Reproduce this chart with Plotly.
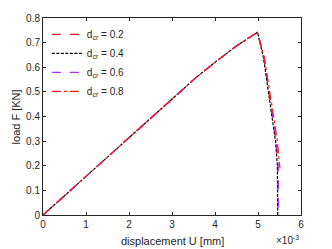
import plotly.graph_objects as go

# displacement in mm, load in kN
x_rise = [0, 0.001, 0.002, 0.003, 0.00355, 0.00402, 0.00448, 0.00479, 0.00499]
y_rise = [0, 0.157, 0.314, 0.470, 0.557, 0.623, 0.684, 0.720, 0.742]

x_d02 = x_rise + [0.00514, 0.00526, 0.00534, 0.00542, 0.00546, 0.00547]
y_d02 = y_rise + [0.636, 0.500, 0.393, 0.298, 0.200, 0.0]
x_d04 = x_rise + [0.00513, 0.00525, 0.00533, 0.00541, 0.00545, 0.00546]
y_d04 = y_rise + [0.636, 0.500, 0.393, 0.298, 0.200, 0.0]
x_d06 = x_rise + [0.00515, 0.00527, 0.00535, 0.00543, 0.00547, 0.00548]
y_d06 = y_rise + [0.636, 0.500, 0.393, 0.298, 0.200, 0.0]
x_d08 = x_rise + [0.00515, 0.00528, 0.00537, 0.00545, 0.00551]
y_d08 = y_rise + [0.636, 0.500, 0.393, 0.300, 0.190]

labels = ["0.2", "0.4", "0.6", "0.8"]
colors = ["#e8141b", "#000000", "#b030f0", "#ff1a1a"]
dashes = ["dash", "3px,1.5px", "dash", "dashdot"]

x_ticks = [0, 0.001, 0.002, 0.003, 0.004, 0.005, 0.006]
x_ticktext = ["0", "1", "2", "3", "4", "5", "6"]
y_ticks = [0, 0.1, 0.2, 0.3, 0.4, 0.5, 0.6, 0.7, 0.8]

FONT = "Liberation Sans, Arial"
TXT = "#262626"

fig = go.Figure()
for xs, ys, lab, c, d in zip([x_d02, x_d04, x_d06, x_d08], [y_d02, y_d04, y_d06, y_d08],
                             labels, colors, dashes):
    fig.add_trace(go.Scatter(x=xs, y=ys, mode="lines", name="d<sub>cr</sub> = " + lab,
                             line=dict(color=c, dash=d, width=1.2)))

axis_common = dict(showline=True, linecolor=TXT, linewidth=1, mirror="allticks",
                   ticks="inside", ticklen=3, tickcolor=TXT, showgrid=False,
                   zeroline=False, automargin=False,
                   tickfont=dict(size=10, color=TXT, family=FONT))
fig.update_xaxes(range=[0, 0.006], tickvals=x_ticks, ticktext=x_ticktext, **axis_common)
fig.update_yaxes(range=[0, 0.8], tickvals=y_ticks, **axis_common)

fig.add_annotation(text="displacement U [mm]", xref="paper", yref="paper", x=0.5, y=-0.132,
                   xanchor="center", yanchor="middle", showarrow=False,
                   font=dict(size=11, color=TXT, family=FONT))
fig.add_annotation(text="load F [KN]", xref="paper", yref="paper", x=-0.105, y=0.5,
                   xanchor="center", yanchor="middle", textangle=-90, showarrow=False,
                   font=dict(size=11, color=TXT, family=FONT))
fig.add_annotation(text="×10<sup>-3</sup>", xref="paper", yref="paper", x=1.0, y=-0.085,
                   xanchor="right", yanchor="top", showarrow=False,
                   font=dict(size=10, color=TXT, family=FONT))

fig.update_layout(
    width=332, height=249,
    margin=dict(l=43, r=31, t=18, b=34),
    plot_bgcolor="white", paper_bgcolor="white",
    legend=dict(x=0.015, y=0.99, xanchor="left", yanchor="top", bgcolor="rgba(0,0,0,0)",
                font=dict(size=10, color=TXT, family=FONT),
                tracegroupgap=0, itemwidth=30),
)

fig.write_html("out.html", config={"displayModeBar": False},
               post_script="document.body.style.margin='0';document.body.style.padding='0';")
